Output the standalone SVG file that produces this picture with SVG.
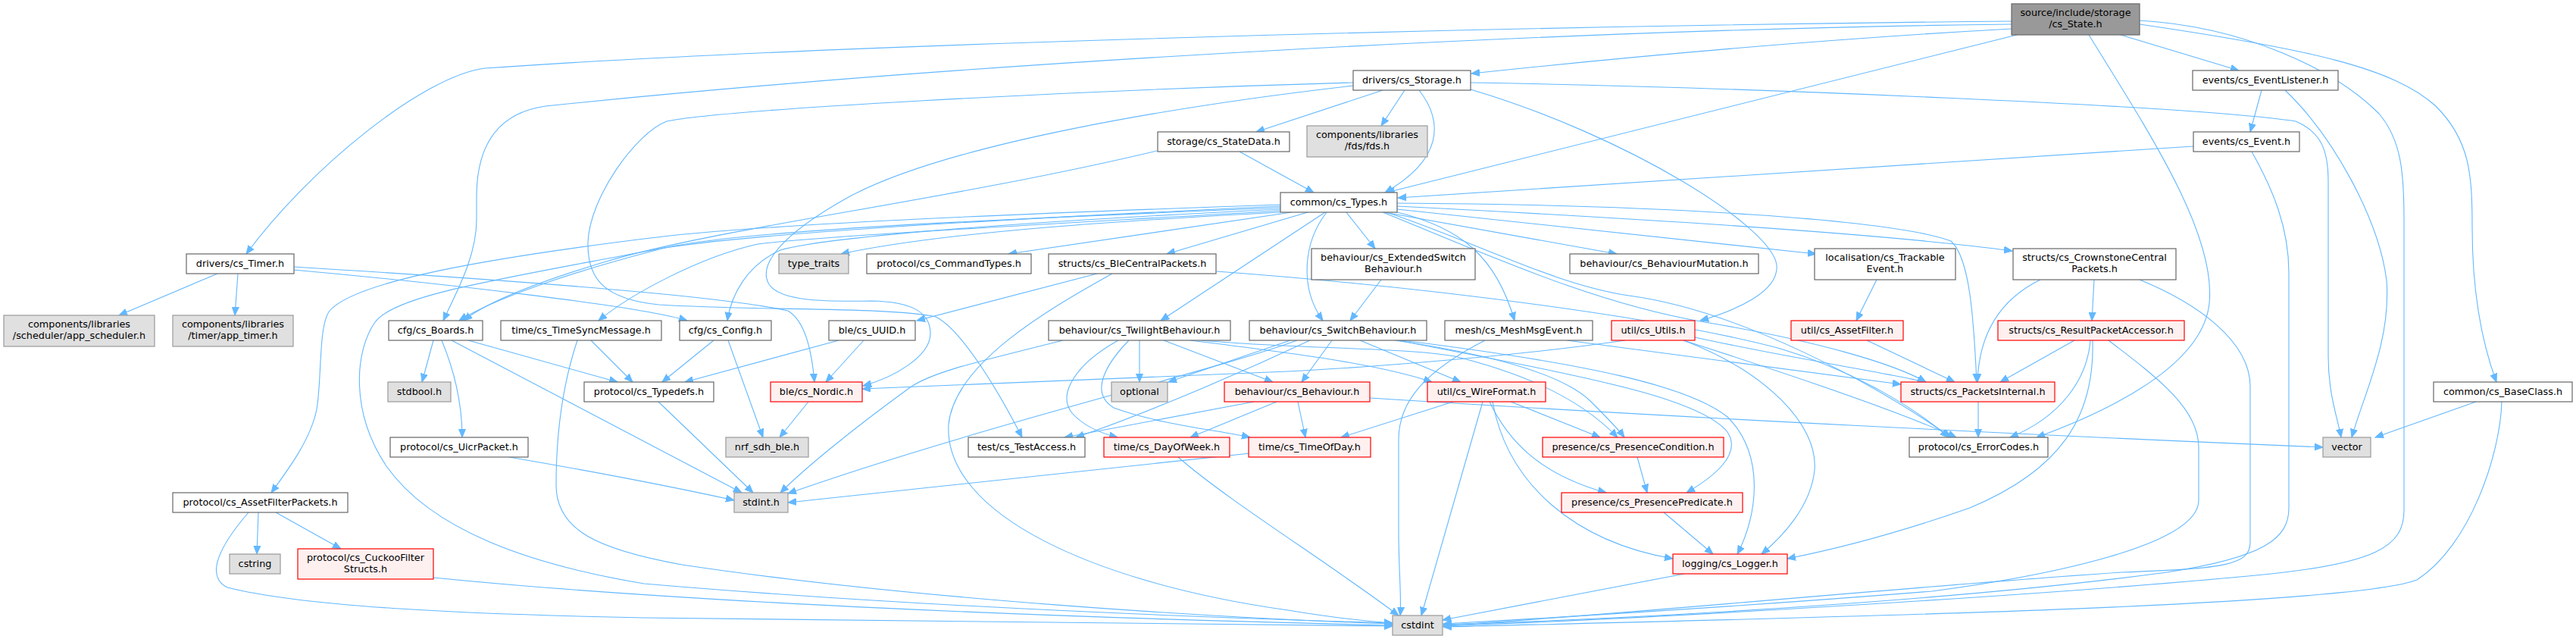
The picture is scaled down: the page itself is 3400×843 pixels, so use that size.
<svg xmlns="http://www.w3.org/2000/svg" width="3400" height="843" viewBox="0 0 3400 843">
<style>
.e{fill:none;stroke:#63b8ff;stroke-width:1.1;marker-end:url(#arr)}
.n rect{fill:#ffffff;stroke:#666666;stroke-width:1.2}
.g rect{fill:#e0e0e0;stroke:#999999;stroke-width:1.2}
.r rect{fill:#fff0f0;stroke:#ff0000;stroke-width:1.2}
.root rect{fill:#999999;stroke:#666666;stroke-width:1.2}
text{font-family:"DejaVu Sans",sans-serif;font-size:12.8px;text-anchor:middle;fill:#000000}
</style>
<defs>
<marker id="arr" markerWidth="12" markerHeight="10" refX="11" refY="5" orient="auto" markerUnits="userSpaceOnUse">
<path d="M0,0.5 L11,5 L0,9.5 z" fill="#63b8ff" stroke="#63b8ff" stroke-width="1"/>
</marker>
</defs>
<rect x="0" y="0" width="3400" height="843" fill="#ffffff"/>
<g id="edges">
<path class="e" d="M2655,28 C2000,34 1100,58 640,90 C560,100 410,220 325,335"/>
<path class="e" d="M2655,32 C2100,38 1300,80 720,140 C650,150 629,200 629,260 L629,290 C629,340 600,390 585,423"/>
<path class="e" d="M2655,38 C2400,52 2150,75 1942,97"/>
<path class="e" d="M2662,46 L1830,254"/>
<path class="e" d="M2799,46 L2955,93"/>
<path class="e" d="M2757,46 C2840,180 2925,310 2916,400 C2908,480 2790,540 2688,577"/>
<path class="e" d="M2824,27 C2960,35 3080,90 3140,150 C3170,185 3173,230 3173,290 L3173,673 C3173,720 3140,745 2967,760 C2700,785 2200,815 1905,826"/>
<path class="e" d="M2824,32 C3050,65 3160,90 3215,140 C3260,185 3263,230 3263,300 C3263,380 3275,450 3295,504"/>
<path class="e" d="M1825,119 L1658,174"/>
<path class="e" d="M1854,119 L1823,166"/>
<path class="e" d="M1873,119 C1905,160 1905,210 1828,254"/>
<path class="e" d="M1941,118 C2150,180 2340,300 2345,350 C2348,385 2290,410 2244,423"/>
<path class="e" d="M1941,109 C2300,115 2900,140 3030,160 C3065,175 3073,200 3073,240 L3073,470 C3073,520 3085,550 3090,577"/>
<path class="e" d="M1786,109 C1400,120 950,145 880,160 C840,175 778,260 776,320 C775,370 800,395 870,402 C1000,410 1180,405 1235,418 C1270,435 1320,520 1349,577"/>
<path class="e" d="M1786,113 C1550,140 1250,190 1120,260 C1030,310 1000,350 1015,375 C1030,398 1090,398 1150,397 C1200,398 1228,410 1228,440 C1228,470 1180,498 1139,509"/>
<path class="e" d="M387,352 C650,368 950,390 1040,410 C1065,425 1072,470 1075,504"/>
<path class="e" d="M387,356 C600,375 850,405 907,423"/>
<path class="e" d="M287,361 L157,416"/>
<path class="e" d="M314,361 L310,416"/>
<path class="e" d="M2985,119 L2970,174"/>
<path class="e" d="M3016,119 C3080,180 3140,290 3150,370 C3156,450 3120,520 3104,577"/>
<path class="e" d="M2895,193 L1845,261"/>
<path class="e" d="M2972,200 C3000,250 3021,300 3021,360 L3021,670 C3021,710 2990,735 2860,755 C2600,790 2200,815 1905,824"/>
<path class="e" d="M1636,200 L1734,254"/>
<path class="e" d="M1527,199 C1250,265 950,300 800,345 C700,375 640,400 612,423"/>
<path class="e" d="M1690,270 C1400,280 1000,295 850,315 C650,340 470,370 435,410 C420,430 425,500 418,540 C410,580 380,620 358,650"/>
<path class="e" d="M1690,272 C1300,290 950,310 850,332 C650,370 520,390 495,425 C470,460 460,540 510,615 C570,700 700,745 850,770 C1200,800 1600,815 1838,822"/>
<path class="e" d="M1690,274 C1300,290 950,305 866,330 C750,360 650,395 606,423"/>
<path class="e" d="M1690,276 C1400,290 1100,310 1030,330 C985,350 965,390 960,423"/>
<path class="e" d="M1690,278 C1400,295 1100,310 1000,322 C920,340 830,390 790,423"/>
<path class="e" d="M1690,280 C1500,290 1250,305 1110,335"/>
<path class="e" d="M1705,280 L1331,335"/>
<path class="e" d="M1726,280 L1540,335"/>
<path class="e" d="M1749,280 L1532,423"/>
<path class="e" d="M1751,280 C1720,320 1715,380 1746,423"/>
<path class="e" d="M1777,280 L1815,328"/>
<path class="e" d="M1840,279 C1930,300 1975,340 1999,423"/>
<path class="e" d="M1827,280 L2134,335"/>
<path class="e" d="M1844,276 L2397,335"/>
<path class="e" d="M1844,272 C2200,290 2500,310 2656,331"/>
<path class="e" d="M1844,268 C2200,270 2500,290 2575,318 C2600,340 2605,420 2609,504"/>
<path class="e" d="M1830,280 C1950,320 2050,375 2150,390 C2300,410 2480,510 2575,577"/>
<path class="e" d="M1825,280 C1950,330 2100,400 2250,425 C2400,450 2500,480 2542,504"/>
<path class="e" d="M1823,369 L1782,423"/>
<path class="e" d="M1448,361 L1210,423"/>
<path class="e" d="M1468,361 C1380,410 1260,480 1252,560 C1245,680 1450,770 1700,805 C1760,815 1810,820 1838,822"/>
<path class="e" d="M1606,358 C1900,380 2200,420 2350,460 C2450,490 2530,540 2572,577"/>
<path class="e" d="M1403,449 C1300,475 1230,490 1200,512 C1120,570 1060,620 1030,650"/>
<path class="e" d="M1476,449 C1420,480 1395,520 1415,545 C1430,562 1455,572 1475,577"/>
<path class="e" d="M1490,449 C1455,485 1440,520 1470,538 C1530,560 1610,568 1650,577"/>
<path class="e" d="M1504,449 L1504,504"/>
<path class="e" d="M1536,449 L1680,504"/>
<path class="e" d="M1571,449 C1700,465 1820,480 1890,504"/>
<path class="e" d="M1586,449 C1700,460 1850,458 1920,470 C2000,490 2080,520 2135,577"/>
<path class="e" d="M1703,449 L1542,504"/>
<path class="e" d="M1729,449 C1620,500 1500,550 1420,577"/>
<path class="e" d="M1712,449 C1600,490 1300,560 1040,651"/>
<path class="e" d="M1758,449 L1718,504"/>
<path class="e" d="M1795,449 L1928,504"/>
<path class="e" d="M1841,449 C1950,465 2060,490 2100,530 C2120,550 2135,565 2144,577"/>
<path class="e" d="M1846,449 C2050,490 2240,520 2280,570 C2300,600 2260,630 2226,650"/>
<path class="e" d="M1850,449 C2100,480 2230,510 2280,550 C2330,600 2320,680 2293,731"/>
<path class="e" d="M1960,449 C1880,490 1846,530 1846,580 L1846,700 C1846,750 1850,790 1848,812"/>
<path class="e" d="M2068,449 L2509,507"/>
<path class="e" d="M2145,449 C2000,470 1800,485 1700,490 C1500,497 1300,505 1138,513"/>
<path class="e" d="M2237,445 C2350,470 2480,490 2542,504"/>
<path class="e" d="M2222,449 C2350,490 2500,540 2582,577"/>
<path class="e" d="M2222,449 C2330,490 2400,560 2395,620 C2390,670 2350,710 2325,731"/>
<path class="e" d="M2464,449 L2580,504"/>
<path class="e" d="M2738,449 L2640,504"/>
<path class="e" d="M2759,449 C2755,500 2720,550 2653,577"/>
<path class="e" d="M2762,449 C2765,550 2720,620 2600,670 C2500,705 2420,725 2359,737"/>
<path class="e" d="M2783,449 C2850,500 2902,540 2902,590 L2902,660 C2902,720 2700,760 2550,780 C2300,800 2050,815 1905,823"/>
<path class="e" d="M2764,369 L2761,423"/>
<path class="e" d="M2693,369 C2640,395 2612,440 2610,504"/>
<path class="e" d="M2824,369 C2900,400 2970,450 2970,510 L2970,715 C2970,745 2940,750 2800,755 C2500,775 2100,815 1905,825"/>
<path class="e" d="M2477,369 L2450,423"/>
<path class="e" d="M572,449 L557,504"/>
<path class="e" d="M583,449 C600,490 610,530 610,577"/>
<path class="e" d="M596,449 L979,650"/>
<path class="e" d="M618,449 L815,504"/>
<path class="e" d="M762,449 C745,500 734,560 734,640 C734,700 790,725 900,745 C1200,790 1600,815 1838,823"/>
<path class="e" d="M780,449 L835,504"/>
<path class="e" d="M942,449 L874,504"/>
<path class="e" d="M961,449 L1007,577"/>
<path class="e" d="M1107,449 L904,504"/>
<path class="e" d="M1140,449 L1090,504"/>
<path class="e" d="M869,530 L994,650"/>
<path class="e" d="M1067,530 L1029,577"/>
<path class="e" d="M1655,530 L1405,577"/>
<path class="e" d="M1685,530 L1571,577"/>
<path class="e" d="M1713,530 L1723,577"/>
<path class="e" d="M1808,525 C2200,550 2700,575 3066,590"/>
<path class="e" d="M1918,530 L1770,577"/>
<path class="e" d="M1994,530 L2112,577"/>
<path class="e" d="M1957,530 L1876,812"/>
<path class="e" d="M1966,530 C1990,580 2030,625 2120,650"/>
<path class="e" d="M1970,530 C1990,640 2080,715 2208,737"/>
<path class="e" d="M2611,530 L2611,577"/>
<path class="e" d="M3268,530 L3135,577"/>
<path class="e" d="M3302,530 C3300,600 3260,720 3190,765 C3100,800 2400,815 1905,827"/>
<path class="e" d="M672,603 C800,625 900,645 969,660"/>
<path class="e" d="M1650,598 L1040,663"/>
<path class="e" d="M1555,603 C1620,660 1750,740 1846,812"/>
<path class="e" d="M2161,603 L2174,650"/>
<path class="e" d="M2196,676 L2261,731"/>
<path class="e" d="M2223,757 L1904,818"/>
<path class="e" d="M341,676 L339,731"/>
<path class="e" d="M364,676 L450,724"/>
<path class="e" d="M328,676 C290,720 270,760 300,775 C400,800 600,810 850,815 C1300,822 1700,826 1838,826"/>
<path class="e" d="M572,762 C900,795 1400,815 1838,825"/>
</g>
<g id="n_state" class="root"><rect x="2655" y="5" width="169" height="41"/><text x="2739.5" y="21">source/include/storage</text><text x="2739.5" y="36">/cs_State.h</text></g>
<g id="n_storage" class="n"><rect x="1786" y="93" width="155" height="26"/><text x="1863.5" y="110">drivers/cs_Storage.h</text></g>
<g id="n_evlistener" class="n"><rect x="2894" y="93" width="192" height="26"/><text x="2990" y="110">events/cs_EventListener.h</text></g>
<g id="n_fds" class="g"><rect x="1725" y="166" width="159" height="41"/><text x="1804.5" y="182">components/libraries</text><text x="1804.5" y="197">/fds/fds.h</text></g>
<g id="n_statedata" class="n"><rect x="1528" y="174" width="174" height="26"/><text x="1615" y="191">storage/cs_StateData.h</text></g>
<g id="n_event" class="n"><rect x="2895" y="174" width="140" height="26"/><text x="2965" y="191">events/cs_Event.h</text></g>
<g id="n_types" class="n"><rect x="1690" y="254" width="154" height="26"/><text x="1767" y="271">common/cs_Types.h</text></g>
<g id="n_timer" class="n"><rect x="246" y="335" width="142" height="26"/><text x="317" y="352">drivers/cs_Timer.h</text></g>
<g id="n_typetraits" class="g"><rect x="1028" y="335" width="92" height="26"/><text x="1074" y="352">type_traits</text></g>
<g id="n_cmdtypes" class="n"><rect x="1144" y="335" width="217" height="26"/><text x="1252.5" y="352">protocol/cs_CommandTypes.h</text></g>
<g id="n_blecentral" class="n"><rect x="1384" y="335" width="221" height="26"/><text x="1494.5" y="352">structs/cs_BleCentralPackets.h</text></g>
<g id="n_extswitch" class="n"><rect x="1731" y="328" width="216" height="41"/><text x="1839" y="344">behaviour/cs_ExtendedSwitch</text><text x="1839" y="359">Behaviour.h</text></g>
<g id="n_bmutation" class="n"><rect x="2072" y="335" width="249" height="26"/><text x="2196.5" y="352">behaviour/cs_BehaviourMutation.h</text></g>
<g id="n_trackable" class="n"><rect x="2395" y="328" width="186" height="41"/><text x="2488" y="344">localisation/cs_Trackable</text><text x="2488" y="359">Event.h</text></g>
<g id="n_crownstone" class="n"><rect x="2657" y="328" width="215" height="41"/><text x="2764.5" y="344">structs/cs_CrownstoneCentral</text><text x="2764.5" y="359">Packets.h</text></g>
<g id="n_appsched" class="g"><rect x="5" y="416" width="199" height="41"/><text x="104.5" y="432">components/libraries</text><text x="104.5" y="447">/scheduler/app_scheduler.h</text></g>
<g id="n_apptimer" class="g"><rect x="228" y="416" width="159" height="41"/><text x="307.5" y="432">components/libraries</text><text x="307.5" y="447">/timer/app_timer.h</text></g>
<g id="n_boards" class="n"><rect x="513" y="423" width="124" height="26"/><text x="575" y="440">cfg/cs_Boards.h</text></g>
<g id="n_timesync" class="n"><rect x="661" y="423" width="212" height="26"/><text x="767" y="440">time/cs_TimeSyncMessage.h</text></g>
<g id="n_config" class="n"><rect x="897" y="423" width="121" height="26"/><text x="957.5" y="440">cfg/cs_Config.h</text></g>
<g id="n_uuid" class="n"><rect x="1094" y="423" width="114" height="26"/><text x="1151" y="440">ble/cs_UUID.h</text></g>
<g id="n_twilight" class="n"><rect x="1384" y="423" width="240" height="26"/><text x="1504" y="440">behaviour/cs_TwilightBehaviour.h</text></g>
<g id="n_switch" class="n"><rect x="1649" y="423" width="234" height="26"/><text x="1766" y="440">behaviour/cs_SwitchBehaviour.h</text></g>
<g id="n_meshmsg" class="n"><rect x="1907" y="423" width="195" height="26"/><text x="2004.5" y="440">mesh/cs_MeshMsgEvent.h</text></g>
<g id="n_utils" class="r"><rect x="2127" y="423" width="110" height="26"/><text x="2182" y="440">util/cs_Utils.h</text></g>
<g id="n_assetfilter" class="r"><rect x="2364" y="423" width="148" height="26"/><text x="2438" y="440">util/cs_AssetFilter.h</text></g>
<g id="n_resultpacket" class="r"><rect x="2637" y="423" width="246" height="26"/><text x="2760" y="440">structs/cs_ResultPacketAccessor.h</text></g>
<g id="n_stdbool" class="g"><rect x="512" y="504" width="83" height="26"/><text x="553.5" y="521">stdbool.h</text></g>
<g id="n_typedefs" class="n"><rect x="771" y="504" width="171" height="26"/><text x="856.5" y="521">protocol/cs_Typedefs.h</text></g>
<g id="n_nordic" class="r"><rect x="1017" y="504" width="121" height="26"/><text x="1077.5" y="521">ble/cs_Nordic.h</text></g>
<g id="n_optional" class="g"><rect x="1467" y="504" width="74" height="26"/><text x="1504" y="521">optional</text></g>
<g id="n_behaviour" class="r"><rect x="1616" y="504" width="192" height="26"/><text x="1712" y="521">behaviour/cs_Behaviour.h</text></g>
<g id="n_wireformat" class="r"><rect x="1884" y="504" width="156" height="26"/><text x="1962" y="521">util/cs_WireFormat.h</text></g>
<g id="n_packetsint" class="r"><rect x="2509" y="504" width="203" height="26"/><text x="2610.5" y="521">structs/cs_PacketsInternal.h</text></g>
<g id="n_baseclass" class="n"><rect x="3212" y="504" width="183" height="26"/><text x="3303.5" y="521">common/cs_BaseClass.h</text></g>
<g id="n_uicr" class="n"><rect x="515" y="577" width="182" height="26"/><text x="606" y="594">protocol/cs_UicrPacket.h</text></g>
<g id="n_nrf" class="g"><rect x="958" y="577" width="109" height="26"/><text x="1012.5" y="594">nrf_sdh_ble.h</text></g>
<g id="n_testaccess" class="n"><rect x="1278" y="577" width="154" height="26"/><text x="1355" y="594">test/cs_TestAccess.h</text></g>
<g id="n_dayofweek" class="r"><rect x="1457" y="577" width="166" height="26"/><text x="1540" y="594">time/cs_DayOfWeek.h</text></g>
<g id="n_timeofday" class="r"><rect x="1648" y="577" width="161" height="26"/><text x="1728.5" y="594">time/cs_TimeOfDay.h</text></g>
<g id="n_prescond" class="r"><rect x="2036" y="577" width="239" height="26"/><text x="2155.5" y="594">presence/cs_PresenceCondition.h</text></g>
<g id="n_errorcodes" class="n"><rect x="2520" y="577" width="183" height="26"/><text x="2611.5" y="594">protocol/cs_ErrorCodes.h</text></g>
<g id="n_vector" class="g"><rect x="3066" y="577" width="63" height="26"/><text x="3097.5" y="594">vector</text></g>
<g id="n_assetfilterpk" class="n"><rect x="228" y="650" width="231" height="26"/><text x="343.5" y="667">protocol/cs_AssetFilterPackets.h</text></g>
<g id="n_stdint" class="g"><rect x="969" y="650" width="71" height="26"/><text x="1004.5" y="667">stdint.h</text></g>
<g id="n_prespred" class="r"><rect x="2061" y="650" width="239" height="26"/><text x="2180.5" y="667">presence/cs_PresencePredicate.h</text></g>
<g id="n_cstring" class="g"><rect x="303" y="731" width="67" height="26"/><text x="336.5" y="748">cstring</text></g>
<g id="n_cuckoo" class="r"><rect x="393" y="724" width="179" height="40"/><text x="482.5" y="740">protocol/cs_CuckooFilter</text><text x="482.5" y="755">Structs.h</text></g>
<g id="n_logger" class="r"><rect x="2208" y="731" width="151" height="26"/><text x="2283.5" y="748">logging/cs_Logger.h</text></g>
<g id="n_cstdint" class="g"><rect x="1838" y="812" width="66" height="26"/><text x="1871" y="829">cstdint</text></g>
</svg>
